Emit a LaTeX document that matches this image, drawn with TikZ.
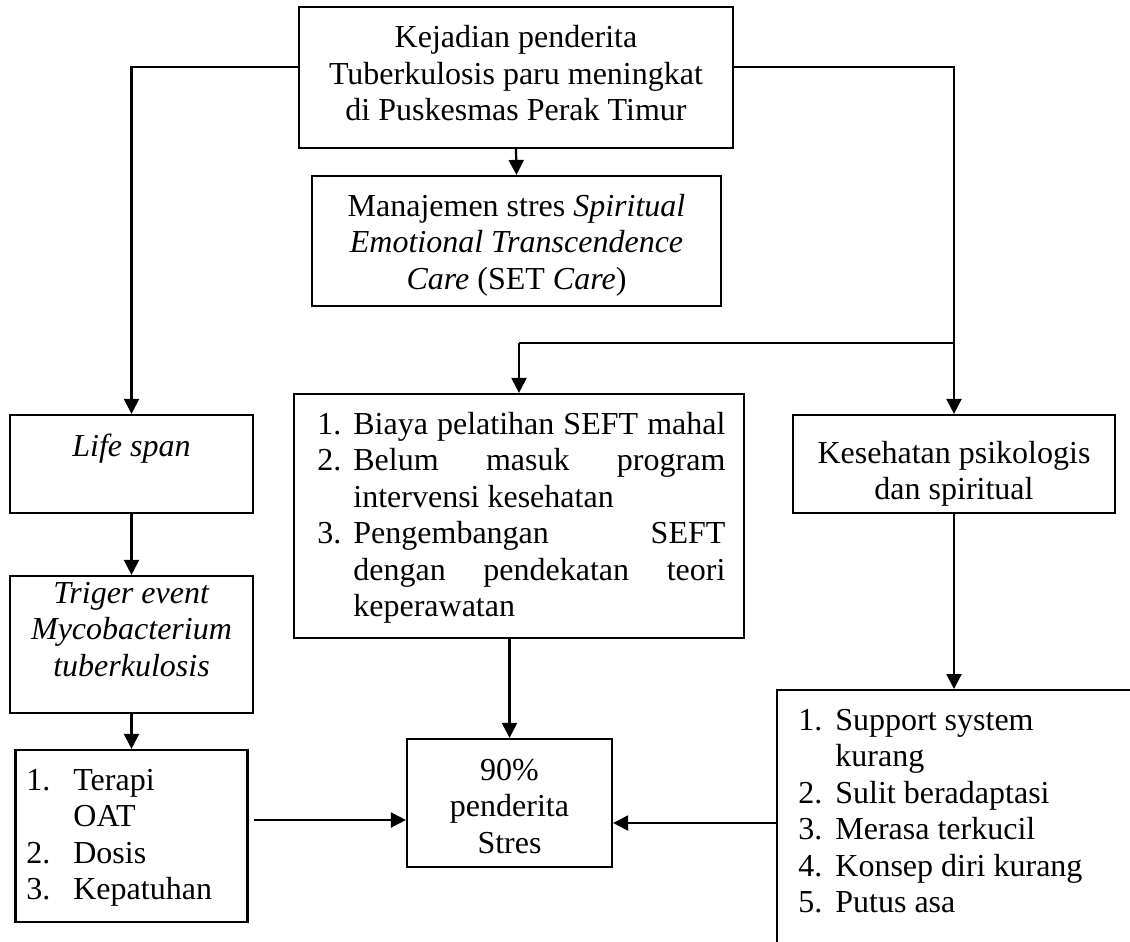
\documentclass[tikz,border=0pt]{standalone}
\usepackage{fontspec}
\setmainfont{Liberation Serif}
\usetikzlibrary{arrows.meta,calc}
\tikzset{
  boxx/.style={draw, line width=1.1pt, inner sep=0pt},
  txt/.style={inner sep=0pt},
  ln/.style={line width=1.1pt},
  arr/.style={line width=1.1pt, -{Triangle[length=7.5pt,width=7.5pt]}}
}
\begin{document}
\begin{tikzpicture}[x=0.5pt, y=-0.5pt, font=\fontsize{16pt}{18.25pt}\selectfont]
\useasboundingbox (0,0) rectangle (1130,942);
\clip (0,0) rectangle (1130,942);

% boxes
\node[boxx, minimum width=217pt, minimum height=70.5pt] (top) at (516,77.5) {};
\node[boxx, minimum width=204.5pt, minimum height=65pt] (set) at (516.5,241) {};
\node[boxx, minimum width=225pt, minimum height=122pt] (biaya) at (519,516) {};
\node[boxx, minimum width=121.5pt, minimum height=49pt] (life) at (131.5,464) {};
\node[boxx, minimum width=121.5pt, minimum height=68.5pt] (triger) at (131.5,644.5) {};
\node[boxx, minimum width=116pt, minimum height=86pt] (terapi) at (131.5,836) {};
\node[boxx, minimum width=102.5pt, minimum height=64pt] (stres) at (509.5,803) {};
\node[boxx, minimum width=161pt, minimum height=49pt] (kes) at (954,464) {};
\node[boxx, minimum width=250pt, minimum height=200pt, anchor=north west] (brbox) at (776,689) {};

% texts
\node[txt, anchor=base] (toptext) at (516,47.5) {\begin{tabular}[t]{@{}c@{}}Kejadian penderita\\ Tuberkulosis paru meningkat\\ di Puskesmas Perak Timur\end{tabular}};
\node[txt, anchor=base] (settext) at (516.5,216) {\begin{tabular}[t]{@{}c@{}}Manajemen stres \textit{Spiritual}\\ \textit{Emotional Transcendence}\\ \textit{Care} (SET \textit{Care})\end{tabular}};
\node[txt, anchor=base west] (biayatext) at (317,434) {\begin{tabular}[t]{@{}l@{}l@{}}
\makebox[18pt][l]{1.}&\makebox[186pt][s]{Biaya pelatihan SEFT mahal}\\
\makebox[18pt][l]{2.}&\makebox[186pt][s]{Belum masuk program}\\
&intervensi kesehatan\\
\makebox[18pt][l]{3.}&\makebox[186pt][s]{Pengembangan SEFT}\\
&\makebox[186pt][s]{dengan pendekatan teori}\\
&keperawatan
\end{tabular}};
\node[txt, anchor=base] (lifetext) at (131.5,456) {\textit{Life span}};
\node[txt, anchor=base] (trigertext) at (131.5,603) {\begin{tabular}[t]{@{}c@{}}\textit{Triger event}\\ \textit{Mycobacterium}\\ \textit{tuberkulosis}\end{tabular}};
\node[txt, anchor=base west] (terapitext) at (26,790) {\begin{tabular}[t]{@{}l@{}l@{}}
\makebox[23.5pt][l]{1.}&Terapi\\
&OAT\\
\makebox[23.5pt][l]{2.}&Dosis\\
\makebox[23.5pt][l]{3.}&Kepatuhan
\end{tabular}};
\node[txt, anchor=base] (strestext) at (509.5,780) {\begin{tabular}[t]{@{}c@{}}90\%\\ penderita\\ Stres\end{tabular}};
\node[txt, anchor=base] (kestext) at (954,463) {\begin{tabular}[t]{@{}c@{}}Kesehatan psikologis\\ dan spiritual\end{tabular}};
\node[txt, anchor=base west] (brtext) at (798,730) {\begin{tabular}[t]{@{}l@{}l@{}}
\makebox[18.5pt][l]{1.}&Support system\\
&kurang\\
\makebox[18.5pt][l]{2.}&Sulit beradaptasi\\
\makebox[18.5pt][l]{3.}&Merasa terkucil\\
\makebox[18.5pt][l]{4.}&Konsep diri kurang\\
\makebox[18.5pt][l]{5.}&Putus asa
\end{tabular}};

% connectors
\coordinate (tl) at ($(top.west)+(0,-10.5)$);
\coordinate (tr) at ($(top.east)+(0,-10.5)$);
\draw[arr] (tl) -| (life.north);
\draw[arr] (tr) -| (kes.north);
\draw[arr] (top.south) -- (set.north);
\coordinate (split) at (kes.north |- 0,343);
\draw[ln] (split) -- (split -| biaya.north);
\draw[arr] (split -| biaya.north) -- (biaya.north);
\draw[arr] (life.south) -- (triger.north);
\draw[arr] (triger.south) -- (terapi.north);
\coordinate (ta) at ($(terapi.east)+(5,-16)$);
\draw[arr] (ta) -- (ta -| stres.west);
\draw[arr] (biaya.south -| stres.north) -- (stres.north);
\draw[arr] (kes.south) -- (kes.south |- brbox.north);
\coordinate (ba) at ($(brbox.north west)+(0,134)$);
\draw[arr] (ba) -- (ba -| stres.east);
\end{tikzpicture}
\end{document}
